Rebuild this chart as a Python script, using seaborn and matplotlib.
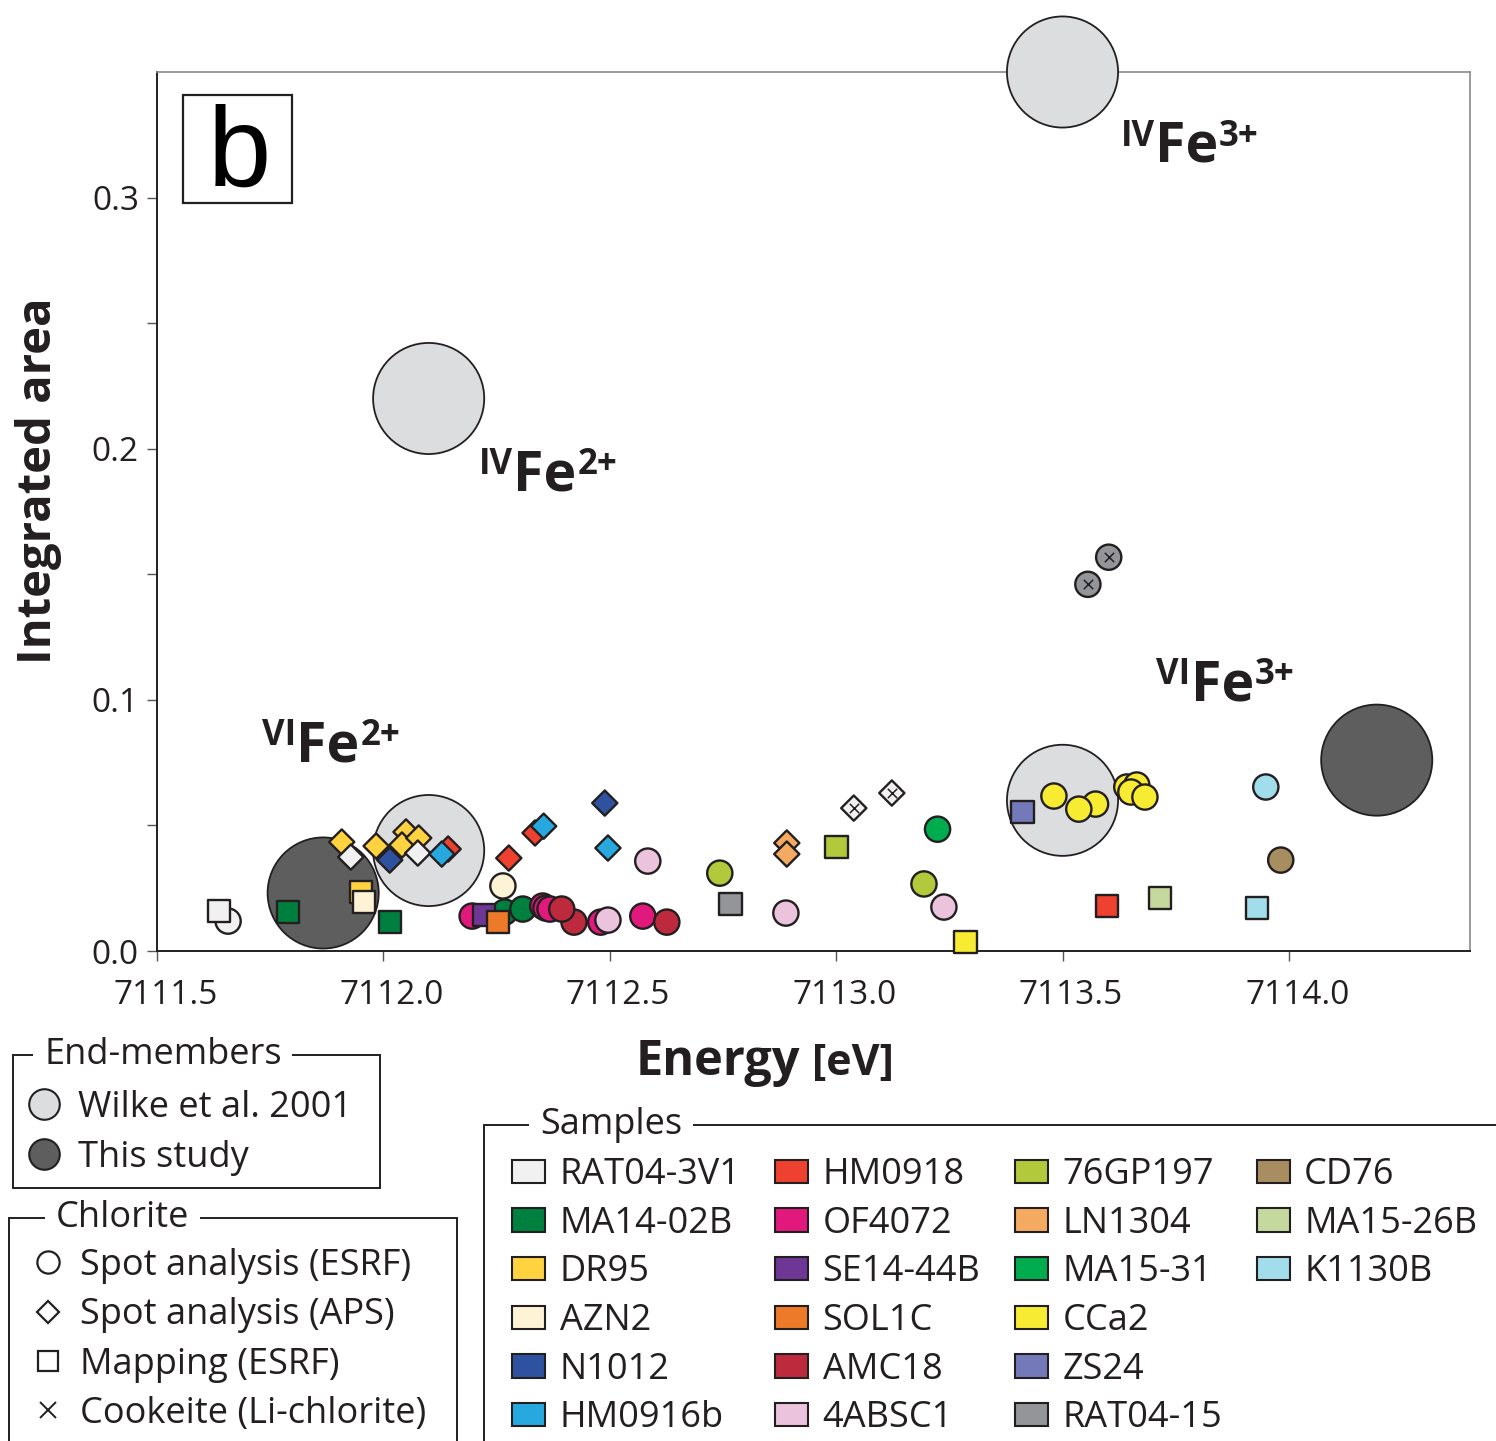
import matplotlib
matplotlib.use("Agg")
import matplotlib.pyplot as plt
import matplotlib.transforms as mtransforms
from matplotlib.lines import Line2D
from matplotlib.patches import Patch, Rectangle
import numpy as np
import pandas as pd
import seaborn as sns

# ---------------------------------------------------------------- data
# End-member references (Wilke et al. 2001 and this study)
em_label = ["VIFe2+", "IVFe2+", "VIFe3+", "IVFe3+", "VIFe2+", "VIFe3+"]
em_source = ["Wilke et al. 2001"] * 4 + ["This study"] * 2
em_energy = [7112.10, 7112.10, 7113.50, 7113.50, 7111.867, 7114.194]
em_area = [0.040, 0.220, 0.060, 0.350, 0.0231, 0.0760]

# Chlorite measurements (drawn back to front)
sample = [
    "RAT04-3V1", "RAT04-3V1", "MA14-02B", "MA14-02B", "DR95", "AZN2",
    "DR95", "RAT04-3V1", "DR95", "N1012", "DR95", "DR95", "DR95", "RAT04-3V1",
    "HM0918", "HM0916b",
    "HM0918", "HM0918", "HM0916b", "N1012", "HM0916b",
    "AZN2", "OF4072", "MA14-02B", "SE14-44B", "SOL1C", "MA14-02B",
    "AMC18", "OF4072", "OF4072", "OF4072", "AMC18",
    "OF4072", "4ABSC1", "OF4072", "AMC18", "4ABSC1",
    "76GP197", "RAT04-15", "LN1304", "LN1304", "4ABSC1", "76GP197",
    "RAT04-3V1", "RAT04-3V1", "MA15-31", "76GP197", "4ABSC1", "CCa2",
    "RAT04-15", "RAT04-15",
    "ZS24", "CCa2", "CCa2", "CCa2", "CCa2", "CCa2", "CCa2", "CCa2",
    "HM0918", "MA15-26B", "K1130B", "CD76", "K1130B",
]
technique = [
    "ESRF spot", "ESRF map", "ESRF map", "ESRF map", "ESRF map", "ESRF map",
    "APS spot", "APS spot", "APS spot", "APS spot", "APS spot", "APS spot", "APS spot", "APS spot",
    "APS spot", "APS spot",
    "APS spot", "APS spot", "APS spot", "APS spot", "APS spot",
    "ESRF spot", "ESRF spot", "ESRF spot", "ESRF map", "ESRF map", "ESRF spot",
    "ESRF spot", "ESRF spot", "ESRF spot", "ESRF spot", "ESRF spot",
    "ESRF spot", "ESRF spot", "ESRF spot", "ESRF spot", "ESRF spot",
    "ESRF spot", "ESRF map", "APS spot", "APS spot", "ESRF spot", "ESRF map",
    "APS spot", "APS spot", "ESRF spot", "ESRF spot", "ESRF spot", "ESRF map",
    "ESRF spot", "ESRF spot",
    "ESRF map", "ESRF spot", "ESRF spot", "ESRF spot", "ESRF spot", "ESRF spot", "ESRF spot", "ESRF spot",
    "ESRF map", "ESRF map", "ESRF spot", "ESRF spot", "ESRF map",
]
energy = [
    7111.657, 7111.637, 7111.789, 7112.014, 7111.950, 7111.957,
    7111.908, 7111.928, 7111.984, 7112.014, 7112.050, 7112.041, 7112.078, 7112.076,
    7112.143, 7112.129,
    7112.277, 7112.335, 7112.354, 7112.489, 7112.496,
    7112.264, 7112.196, 7112.268, 7112.222, 7112.253, 7112.308,
    7112.421, 7112.352, 7112.359, 7112.368, 7112.394,
    7112.480, 7112.496, 7112.573, 7112.626, 7112.584,
    7112.743, 7112.767, 7112.891, 7112.891, 7112.889, 7113.001,
    7113.039, 7113.123, 7113.224, 7113.194, 7113.238, 7113.286,
    7113.556, 7113.602,
    7113.412, 7113.481, 7113.573, 7113.536, 7113.642, 7113.664, 7113.651, 7113.682,
    7113.598, 7113.715, 7113.949, 7113.982, 7113.929,
]
area = [
    0.0119, 0.0159, 0.0155, 0.0115, 0.0235, 0.0195,
    0.0434, 0.0374, 0.0418, 0.0362, 0.0474, 0.0422, 0.0450, 0.0390,
    0.0406, 0.0386,
    0.0370, 0.0470, 0.0497, 0.0589, 0.0410,
    0.0259, 0.0139, 0.0155, 0.0143, 0.0115, 0.0167,
    0.0115, 0.0179, 0.0171, 0.0167, 0.0167,
    0.0115, 0.0123, 0.0139, 0.0115, 0.0358,
    0.0310, 0.0187, 0.0430, 0.0386, 0.0151, 0.0414,
    0.0569, 0.0629, 0.0485, 0.0267, 0.0175, 0.0036,
    0.1460, 0.1568,
    0.0553, 0.0617, 0.0585, 0.0565, 0.0653, 0.0661, 0.0633, 0.0613,
    0.0179, 0.0211, 0.0653, 0.0362, 0.0171,
]
cookeite = [False] * 43 + [True, True] + [False] * 4 + [True, True] + [False] * 13

samples_order = [
    "RAT04-3V1", "MA14-02B", "DR95", "AZN2", "N1012", "HM0916b",
    "HM0918", "OF4072", "SE14-44B", "SOL1C", "AMC18", "4ABSC1",
    "76GP197", "LN1304", "MA15-31", "CCa2", "ZS24", "RAT04-15",
    "CD76", "MA15-26B", "K1130B",
]
sample_colors = [
    "#F1F1F1", "#00803E", "#FFD23F", "#FFF3D6", "#2F52A0", "#27A9E0",
    "#EF412F", "#E2197C", "#6F3795", "#EC7A28", "#BE2A3D", "#EBC3DC",
    "#B1C93A", "#F4AA60", "#00AC4D", "#F7EC31", "#7479BA", "#939598",
    "#A88D61", "#C5D99F", "#A2DDEB",
]

# ---------------------------------------------------------------- style
INK = "#231F20"
sns.set_theme(style="white")
plt.rcParams["font.family"] = ["Open Sans", "DejaVu Sans"]
plt.rcParams["text.color"] = INK

W, H = 1496, 1441
fig = plt.figure(figsize=(W / 100, H / 100), dpi=100)
ax = fig.add_axes([157 / W, 1 - 951 / H, 1313 / W, 879 / H])


def fx(px):
    return px / W


def fy(py):
    return 1 - py / H


em = pd.DataFrame({"label": em_label, "source": em_source,
                   "energy": em_energy, "area": em_area})
df = pd.DataFrame({"sample": sample, "technique": technique,
                   "energy": energy, "area": area, "cookeite": cookeite})

em_palette = {"Wilke et al. 2001": "#DCDDDF", "This study": "#5E5E5E"}
palette = dict(zip(samples_order, sample_colors))
markers = {"ESRF spot": "o", "APS spot": "D", "ESRF map": "s"}
sizes = {"ESRF spot": 330, "APS spot": 165, "ESRF map": 260}

sns.scatterplot(data=em, x="energy", y="area", hue="source", palette=em_palette,
                s=6400, edgecolor=INK, linewidth=1.3, legend=False, ax=ax, zorder=3)
ax.collections[-1].set_clip_on(False)

sns.scatterplot(data=df, x="energy", y="area", hue="sample", palette=palette,
                style="technique", markers=markers, size="technique", sizes=sizes,
                edgecolor=INK, linewidth=1.7, legend=False, ax=ax, zorder=4)
ax.collections[-1].set_clip_on(False)

sns.scatterplot(data=df[df["cookeite"]], x="energy", y="area", marker="x",
                color=INK, s=45, linewidth=1.1, legend=False, ax=ax, zorder=5)

# ---------------------------------------------------------------- axes
ax.set_xlim(7111.5, 7114.4)
ax.set_ylim(0.0, 0.35)
ax.set_xticks([7111.5, 7112.0, 7112.5, 7113.0, 7113.5, 7114.0])
ax.set_xticklabels(["7111.5", "7112.0", "7112.5", "7113.0", "7113.5", "7114.0"])
ax.set_yticks([0.0, 0.1, 0.2, 0.3])
ax.set_yticklabels(["0.0", "0.1", "0.2", "0.3"])
ax.set_yticks([0.05, 0.15, 0.25], minor=True)
ax.tick_params(axis="both", which="both", direction="out", length=7,
               width=1.0, color="#555555", labelsize=24, labelcolor=INK)
ax.tick_params(axis="x", pad=13)
ax.tick_params(axis="y", pad=6)
ax.tick_params(axis="both", which="both", bottom=True, left=True)
shift = mtransforms.ScaledTranslation(6 / 72, 0, fig.dpi_scale_trans)
for lab in ax.get_xticklabels():
    lab.set_transform(lab.get_transform() + shift)

for side in ["left", "bottom"]:
    ax.spines[side].set_color(INK)
    ax.spines[side].set_linewidth(1.4)
for side in ["top", "right"]:
    ax.spines[side].set_color("#8A8A8A")
    ax.spines[side].set_linewidth(1.2)
ax.grid(False)

ax.set_xlabel("")
ax.set_ylabel("Integrated area", fontsize=34, fontweight="bold", color=INK)
ax.yaxis.set_label_coords(-0.072, 0.535)

fig.text(fx(636), fy(1075), "Energy", fontsize=35, fontweight="bold",
         ha="left", va="baseline")
fig.text(fx(812), fy(1075), "[eV]", fontsize=31, fontweight="bold",
         ha="left", va="baseline")

# ---------------------------------------------------------------- site labels
site_text = {
    "IVFe3+": ("IV", "3+", (59, -90)),
    "IVFe2+": ("IV", "2+", (51, -92)),
    "VIFe3+": ("VI", "3+", (95, 100)),
    "VIFe2+": ("VI", "2+", (-166, 89)),
}
for lbl, (coord, charge, (dx, dy)) in site_text.items():
    row = em[(em["label"] == lbl) & (em["source"] == "Wilke et al. 2001")].iloc[0]
    lead_w = 33
    fe = ax.annotate("Fe", xy=(row["energy"], row["area"]), xycoords="data",
                     xytext=((dx + lead_w) * 0.72, dy * 0.72), textcoords="offset points",
                     fontsize=40, fontweight="bold", ha="left", va="baseline",
                     annotation_clip=False, zorder=6)
    ax.annotate(coord, xy=(0, 1.02), xycoords=fe, fontsize=25, fontweight="bold",
                ha="right", va="top", annotation_clip=False, zorder=6)
    ax.annotate(charge, xy=(1.0, 1.02), xycoords=fe, xytext=(1, 0),
                textcoords="offset points", fontsize=25, fontweight="bold",
                ha="left", va="top", annotation_clip=False, zorder=6)

# ---------------------------------------------------------------- panel tag
fig.add_artist(Rectangle((fx(183), fy(203)), (292 - 183) / W, (203 - 95) / H,
                         transform=fig.transFigure, fill=False, edgecolor=INK,
                         linewidth=1.6))
fig.text(fx(239), fy(157), "b", fontsize=82, family="Liberation Sans",
         ha="center", va="center", color="black")

# ---------------------------------------------------------------- legends
LEG_FS = 26


def framed_box(x0, y0, x1, y1, title, tx):
    fig.add_artist(Rectangle((fx(x0), fy(y1)), (x1 - x0) / W, (y1 - y0) / H,
                             transform=fig.transFigure, fill=False,
                             edgecolor=INK, linewidth=1.4, clip_on=False))
    fig.text(fx(tx), fy(y0), title, fontsize=LEG_FS, ha="left", va="center",
             bbox=dict(boxstyle="square,pad=0.3", facecolor="white",
                       edgecolor="none"), zorder=10)


framed_box(13, 1055, 380, 1188, "End-members", 44)
framed_box(9, 1218, 457, 1460, "Chlorite", 56)
framed_box(484, 1125, 1520, 1460, "Samples", 540)

em_handles = [
    Line2D([], [], marker="o", linestyle="none", markersize=22,
           markerfacecolor=em_palette["Wilke et al. 2001"], markeredgecolor=INK,
           markeredgewidth=1.5),
    Line2D([], [], marker="o", linestyle="none", markersize=22,
           markerfacecolor=em_palette["This study"], markeredgecolor=INK,
           markeredgewidth=1.5),
]
fig.legend(em_handles, ["Wilke et al. 2001", "This study"],
           loc="upper left", bbox_to_anchor=(fx(27), fy(1090)),
           frameon=False, fontsize=LEG_FS, borderpad=0, borderaxespad=0,
           handlelength=0.92, handletextpad=0.5, labelspacing=0.38)

ch_handles = [
    Line2D([], [], marker="o", linestyle="none", markersize=16,
           markerfacecolor="white", markeredgecolor=INK, markeredgewidth=1.6),
    Line2D([], [], marker="D", linestyle="none", markersize=11,
           markerfacecolor="white", markeredgecolor=INK, markeredgewidth=1.6),
    Line2D([], [], marker="s", linestyle="none", markersize=14,
           markerfacecolor="white", markeredgecolor=INK, markeredgewidth=1.6),
    Line2D([], [], marker="x", linestyle="none", markersize=11,
           markeredgecolor=INK, markeredgewidth=1.4),
]
fig.legend(ch_handles, ["Spot analysis (ESRF)", "Spot analysis (APS)",
                        "Mapping (ESRF)", "Cookeite (Li-chlorite)"],
           loc="upper left", bbox_to_anchor=(fx(31), fy(1248)),
           frameon=False, fontsize=LEG_FS, borderpad=0, borderaxespad=0,
           handlelength=0.92, handletextpad=0.45, labelspacing=0.37)

# four columns of six rows; the last column holds three entries
sample_handles = [Patch(facecolor=c, edgecolor=INK, linewidth=1.5)
                  for c in sample_colors]
blank = Patch(facecolor="none", edgecolor="none")
fig.legend(sample_handles + [blank] * 3, samples_order + [""] * 3, ncol=4,
           loc="upper left", bbox_to_anchor=(fx(512), fy(1157)),
           frameon=False, fontsize=LEG_FS, borderpad=0, borderaxespad=0,
           handlelength=0.92, handleheight=0.62, handletextpad=0.4,
           labelspacing=0.35, columnspacing=0.95)

fig.savefig("out.png", dpi=100, facecolor="white")
